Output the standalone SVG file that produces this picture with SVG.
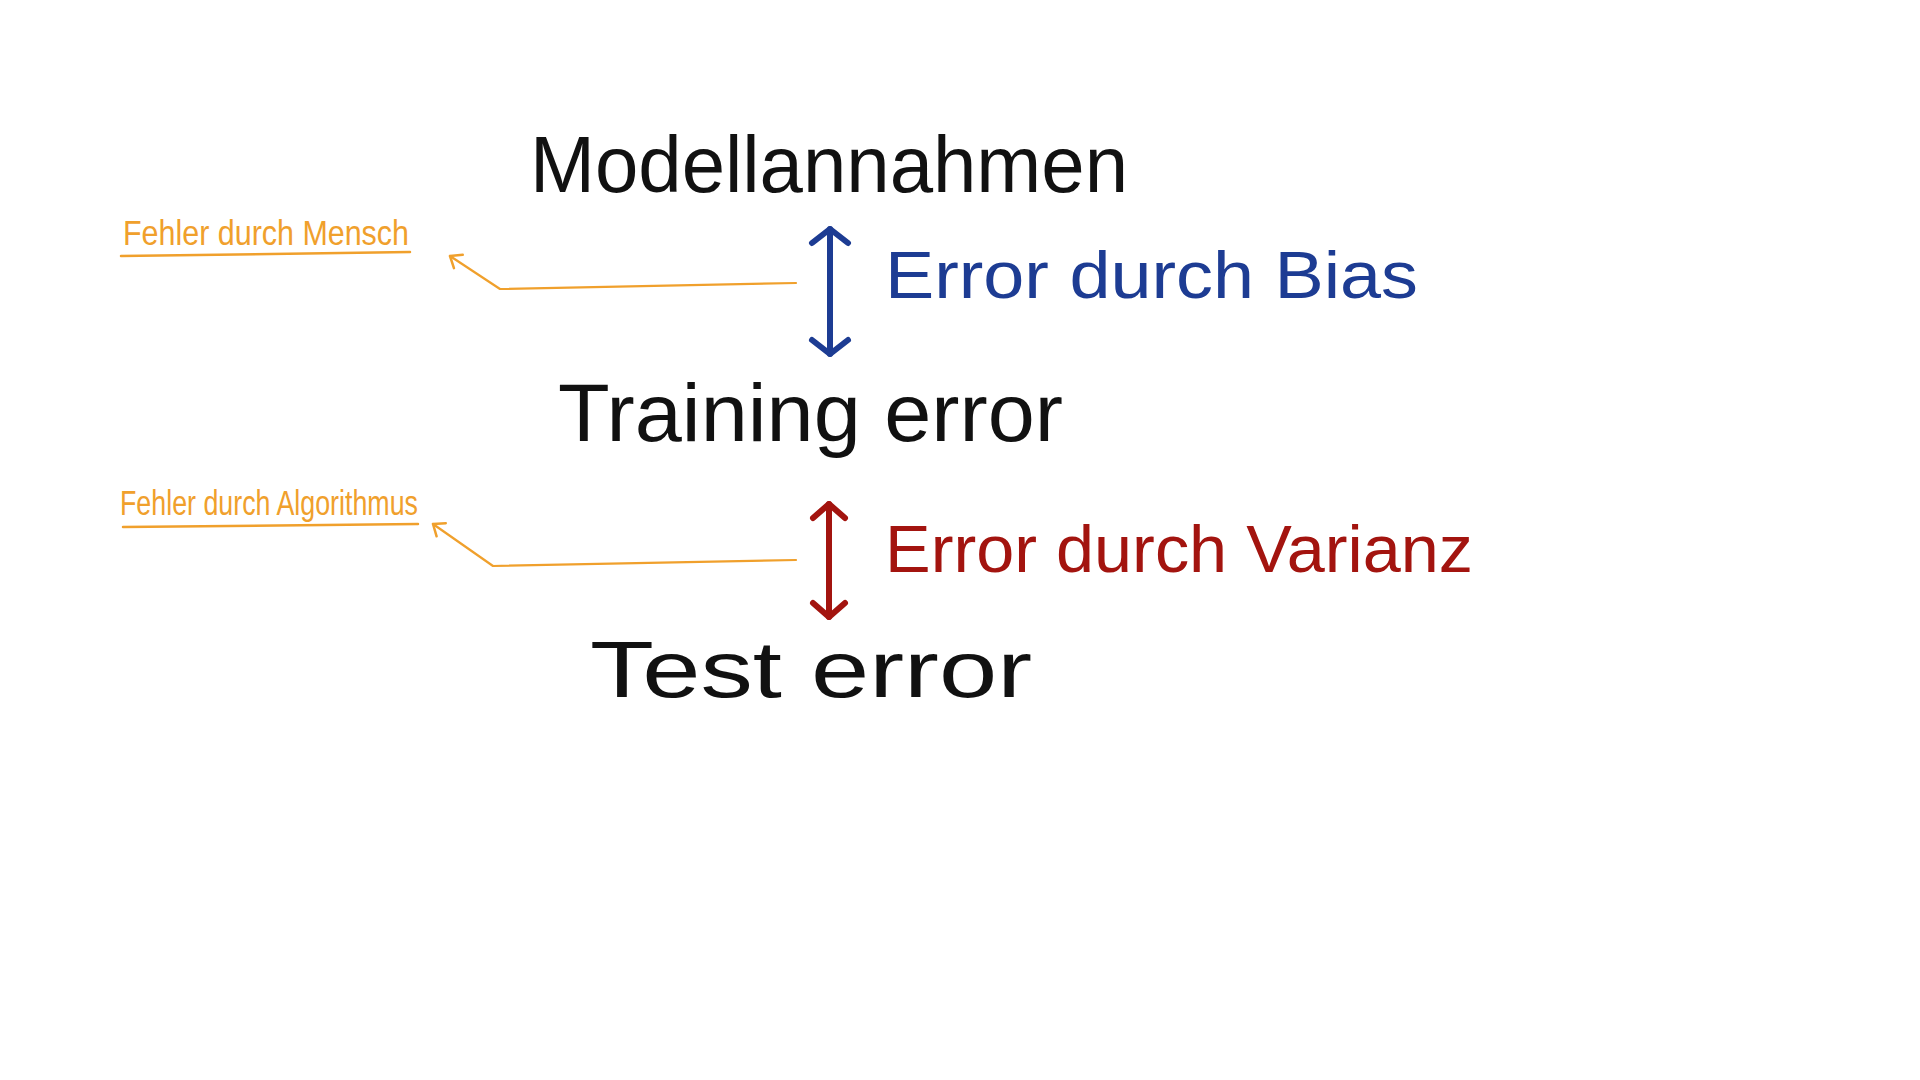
<svg xmlns="http://www.w3.org/2000/svg" width="1920" height="1080" viewBox="0 0 1920 1080">
<style>
.t{font-family:"Liberation Sans","Noto Sans",sans-serif;}
.black{fill:#111111;}
.blue{fill:#1d3c93;}
.red{fill:#a3140f;}
.orange{fill:#f0a02c;}
.ul{stroke:#f0a02c;stroke-width:2.5;fill:none;stroke-linecap:round;}
.ol{stroke:#f0a02c;stroke-width:2.2;fill:none;stroke-linecap:round;stroke-linejoin:round;}
.ba{stroke:#1d3c93;stroke-width:6;fill:none;stroke-linecap:round;}
.ra{stroke:#a3140f;stroke-width:6;fill:none;stroke-linecap:round;}
</style>
<defs>
<marker id="hb" viewBox="-24 -24 30 48" markerWidth="30" markerHeight="48" refX="0" refY="0" orient="auto-start-reverse" markerUnits="userSpaceOnUse">
<path d="M-14,-18 L0,0 L-14,18" fill="none" stroke="#1d3c93" stroke-width="6" stroke-linecap="round" stroke-linejoin="round"/>
</marker>
<marker id="hr" viewBox="-24 -24 30 48" markerWidth="30" markerHeight="48" refX="0" refY="0" orient="auto-start-reverse" markerUnits="userSpaceOnUse">
<path d="M-14,-16 L0,0 L-14,16" fill="none" stroke="#a3140f" stroke-width="6" stroke-linecap="round" stroke-linejoin="round"/>
</marker>
<marker id="ho" viewBox="-14 -12 18 24" markerWidth="18" markerHeight="24" refX="0" refY="0" orient="auto" markerUnits="userSpaceOnUse">
<path d="M-10,-8 L0,0 L-10,8" fill="none" stroke="#f0a02c" stroke-width="2.5" stroke-linecap="round" stroke-linejoin="round"/>
</marker>
</defs>
<rect width="1920" height="1080" fill="#ffffff"/>

<g id="modellannahmen">
<text class="t black" x="530" y="192" font-size="80" textLength="598" lengthAdjust="spacingAndGlyphs">Modellannahmen</text>
</g>
<g id="training-error">
<text class="t black" x="558" y="441" font-size="82" textLength="505" lengthAdjust="spacingAndGlyphs">Training error</text>
</g>
<g id="test-error">
<text class="t black" x="590" y="697" font-size="80" textLength="442" lengthAdjust="spacingAndGlyphs">Test error</text>
</g>
<g id="error-bias">
<text class="t blue" x="885" y="298" font-size="66" textLength="533" lengthAdjust="spacingAndGlyphs">Error durch Bias</text>
</g>
<g id="error-varianz">
<text class="t red" x="885" y="572" font-size="66" textLength="588" lengthAdjust="spacingAndGlyphs">Error durch Varianz</text>
</g>
<g id="fehler-mensch">
<text class="t orange" x="123" y="245" font-size="35" textLength="286" lengthAdjust="spacingAndGlyphs">Fehler durch Mensch</text>
<path class="ul" d="M121,256 L410,252"/>
</g>
<g id="fehler-algorithmus">
<text class="t orange" x="120" y="515" font-size="35" textLength="298" lengthAdjust="spacingAndGlyphs">Fehler durch Algorithmus</text>
<path class="ul" d="M123,527 L418,524"/>
</g>

<g id="connectors">
<path class="ba" d="M830,229 L830,354" marker-start="url(#hb)" marker-end="url(#hb)"/>
<path class="ra" d="M829,504 L829,617" marker-start="url(#hr)" marker-end="url(#hr)"/>
<path class="ol" d="M796,283 L500,289 L450,256" marker-end="url(#ho)"/>
<path class="ol" d="M796,560 L493,566 L433,524" marker-end="url(#ho)"/>
</g>
</svg>
